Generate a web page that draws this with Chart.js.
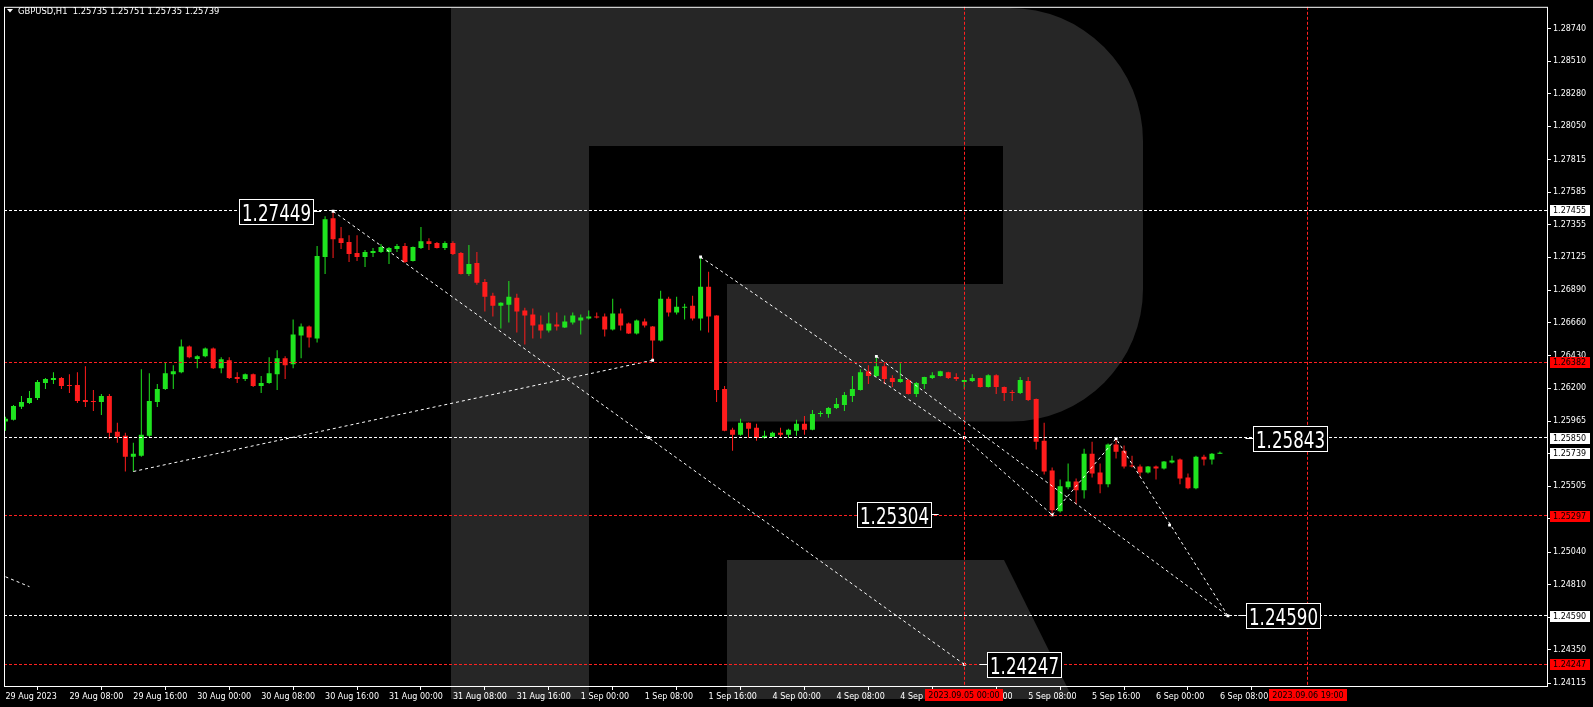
<!DOCTYPE html>
<html>
<head>
<meta charset="utf-8">
<title>GBPUSD,H1</title>
<script src="https://cdn.jsdelivr.net/npm/chart.js@4.4.1/dist/chart.umd.min.js"></script>
<style>
  html, body { margin: 0; padding: 0; background: #000; overflow: hidden; }
  #wrap { width: 1593px; height: 707px; }
</style>
</head>
<body>
<div id="wrap"><canvas id="fxChart" width="1593" height="707"></canvas></div>
<script>
const symbolTitle = "GBPUSD,H1  1.25735 1.25751 1.25735 1.25739";

// H1 bars, index 0 = 29 Aug 2023 00:00, weekend bars not present
const opens = [
  1.25963, 1.25975, 1.26068, 1.26094, 1.26129, 1.26235, 1.26256, 1.26270, 1.26221, 1.26221,
  1.26115, 1.26108, 1.26101, 1.26143, 1.25891, 1.25863, 1.25715, 1.25722, 1.25863, 1.26101,
  1.26193, 1.26298, 1.26312, 1.26494, 1.26405, 1.26424, 1.26480, 1.26340, 1.26396, 1.26277,
  1.26263, 1.26298, 1.26214, 1.26235, 1.26298, 1.26410, 1.26368, 1.26571, 1.26634, 1.26550,
  1.27126, 1.27400, 1.27259, 1.27231, 1.27154, 1.27126, 1.27154, 1.27161, 1.27161, 1.27182,
  1.27203, 1.27098, 1.27189, 1.27238, 1.27224, 1.27189, 1.27224, 1.27154, 1.27006, 1.27084,
  1.26950, 1.26852, 1.26782, 1.26789, 1.26838, 1.26747, 1.26719, 1.26649, 1.26607, 1.26649,
  1.26628, 1.26663, 1.26677, 1.26691, 1.26705, 1.26705, 1.26614, 1.26726, 1.26656, 1.26586,
  1.26670, 1.26635, 1.26536, 1.26831, 1.26733, 1.26768, 1.26782, 1.26691, 1.26915, 1.26712,
  1.26193, 1.25905, 1.25870, 1.25954, 1.25919, 1.25849, 1.25856, 1.25884, 1.25870, 1.25898,
  1.25947, 1.25905, 1.26017, 1.26017, 1.26059, 1.26080, 1.26143, 1.26186, 1.26319, 1.26284,
  1.26354, 1.26270, 1.26242, 1.26256, 1.26157, 1.26228, 1.26270, 1.26284, 1.26312, 1.26277,
  1.26242, 1.26249, 1.26270, 1.26207, 1.26291, 1.26207, 1.26171, 1.26164, 1.26249, 1.26122,
  1.25828, 1.25617, 1.25329, 1.25498, 1.25540, 1.25477, 1.25736, 1.25603, 1.25519, 1.25800,
  1.25757, 1.25652, 1.25645, 1.25603, 1.25645, 1.25631, 1.25673, 1.25694, 1.25568, 1.25491,
  1.25715, 1.25694, 1.25735
];
const highs = [
  1.25996, 1.26080, 1.26143, 1.26178, 1.26256, 1.26270, 1.26312, 1.26277, 1.26298, 1.26312,
  1.26354, 1.26186, 1.26157, 1.26157, 1.25954, 1.25884, 1.25814, 1.26333, 1.26305, 1.26228,
  1.26382, 1.26361, 1.26543, 1.26500, 1.26431, 1.26487, 1.26487, 1.26417, 1.26417, 1.26312,
  1.26302, 1.26302, 1.26284, 1.26417, 1.26466, 1.26424, 1.26684, 1.26656, 1.26641, 1.27203,
  1.27414, 1.27449, 1.27337, 1.27280, 1.27280, 1.27175, 1.27189, 1.27217, 1.27196, 1.27217,
  1.27224, 1.27200, 1.27337, 1.27259, 1.27231, 1.27238, 1.27238, 1.27161, 1.27210, 1.27161,
  1.26971, 1.26873, 1.26806, 1.26957, 1.26866, 1.26768, 1.26761, 1.26712, 1.26733, 1.26733,
  1.26712, 1.26733, 1.26719, 1.26747, 1.26733, 1.26726, 1.26831, 1.26761, 1.26663, 1.26684,
  1.26691, 1.26638, 1.26887, 1.26845, 1.26845, 1.26796, 1.26852, 1.27126, 1.27021, 1.26715,
  1.26214, 1.25919, 1.25982, 1.25957, 1.25947, 1.25898, 1.25891, 1.25919, 1.25912, 1.25975,
  1.26003, 1.26045, 1.26038, 1.26066, 1.26129, 1.26171, 1.26284, 1.26333, 1.26361, 1.26424,
  1.26375, 1.26291, 1.26375, 1.26263, 1.26242, 1.26280, 1.26312, 1.26322, 1.26315, 1.26305,
  1.26259, 1.26298, 1.26273, 1.26298, 1.26298, 1.26210, 1.26186, 1.26277, 1.26277, 1.26125,
  1.25954, 1.25638, 1.25554, 1.25666, 1.25561, 1.25771, 1.25821, 1.25666, 1.25807, 1.25843,
  1.25793, 1.25722, 1.25659, 1.25649, 1.25652, 1.25684, 1.25722, 1.25701, 1.25596, 1.25722,
  1.25729, 1.25740, 1.25751
];
const lows = [
  1.25898, 1.25970, 1.26052, 1.26087, 1.26115, 1.26193, 1.26228, 1.26193, 1.26164, 1.26094,
  1.26066, 1.26038, 1.26010, 1.25842, 1.25814, 1.25610, 1.25610, 1.25715, 1.25849, 1.26066,
  1.26186, 1.26193, 1.26305, 1.26410, 1.26340, 1.26417, 1.26335, 1.26305, 1.26263, 1.26235,
  1.26249, 1.26207, 1.26164, 1.26230, 1.26186, 1.26263, 1.26340, 1.26410, 1.26487, 1.26522,
  1.27006, 1.27119, 1.27182, 1.27091, 1.27098, 1.27056, 1.27126, 1.27154, 1.27077, 1.27161,
  1.27084, 1.27094, 1.27182, 1.27175, 1.27186, 1.27175, 1.27140, 1.27003, 1.26992, 1.26929,
  1.26740, 1.26705, 1.26621, 1.26663, 1.26593, 1.26508, 1.26550, 1.26550, 1.26593, 1.26607,
  1.26624, 1.26649, 1.26579, 1.26684, 1.26691, 1.26564, 1.26607, 1.26607, 1.26582, 1.26579,
  1.26628, 1.26396, 1.26529, 1.26705, 1.26719, 1.26684, 1.26677, 1.26607, 1.26593, 1.26101,
  1.25895, 1.25757, 1.25863, 1.25849, 1.25828, 1.25842, 1.25853, 1.25856, 1.25849, 1.25863,
  1.25870, 1.25901, 1.25996, 1.25989, 1.26052, 1.26038, 1.26101, 1.26182, 1.26228, 1.26277,
  1.26228, 1.26207, 1.26238, 1.26154, 1.26136, 1.26193, 1.26263, 1.26281, 1.26263, 1.26249,
  1.26193, 1.26242, 1.26203, 1.26203, 1.26157, 1.26108, 1.26108, 1.26157, 1.26108, 1.25765,
  1.25589, 1.25304, 1.25320, 1.25484, 1.25378, 1.25420, 1.25568, 1.25456, 1.25498, 1.25701,
  1.25631, 1.25638, 1.25575, 1.25596, 1.25554, 1.25624, 1.25666, 1.25519, 1.25484, 1.25484,
  1.25652, 1.25659, 1.25735
];
const closes = [
  1.25982, 1.26073, 1.26101, 1.26129, 1.26242, 1.26263, 1.26270, 1.26214, 1.26214, 1.26108,
  1.26101, 1.26101, 1.26143, 1.25884, 1.25856, 1.25715, 1.25736, 1.25870, 1.26108, 1.26193,
  1.26305, 1.26319, 1.26494, 1.26417, 1.26424, 1.26480, 1.26340, 1.26403, 1.26270, 1.26263,
  1.26298, 1.26214, 1.26235, 1.26305, 1.26410, 1.26361, 1.26578, 1.26634, 1.26557, 1.27133,
  1.27393, 1.27252, 1.27224, 1.27147, 1.27126, 1.27161, 1.27168, 1.27196, 1.27189, 1.27203,
  1.27091, 1.27196, 1.27238, 1.27217, 1.27189, 1.27224, 1.27147, 1.27006, 1.27077, 1.26943,
  1.26845, 1.26782, 1.26803, 1.26845, 1.26740, 1.26712, 1.26642, 1.26607, 1.26656, 1.26635,
  1.26670, 1.26712, 1.26698, 1.26705, 1.26698, 1.26614, 1.26726, 1.26642, 1.26586, 1.26677,
  1.26642, 1.26536, 1.26831, 1.26733, 1.26775, 1.26775, 1.26691, 1.26915, 1.26705, 1.26186,
  1.25898, 1.25870, 1.25954, 1.25912, 1.25849, 1.25863, 1.25884, 1.25870, 1.25905, 1.25947,
  1.25905, 1.26017, 1.26024, 1.26059, 1.26087, 1.26150, 1.26193, 1.26312, 1.26284, 1.26354,
  1.26263, 1.26242, 1.26263, 1.26157, 1.26235, 1.26277, 1.26291, 1.26319, 1.26270, 1.26263,
  1.26256, 1.26270, 1.26207, 1.26291, 1.26207, 1.26164, 1.26164, 1.26256, 1.26115, 1.25821,
  1.25610, 1.25336, 1.25505, 1.25540, 1.25477, 1.25736, 1.25596, 1.25519, 1.25800, 1.25750,
  1.25645, 1.25645, 1.25603, 1.25645, 1.25631, 1.25680, 1.25687, 1.25561, 1.25491, 1.25715,
  1.25694, 1.25736, 1.25739
];

// one time label every 8 bars
const timeLabels = [
  "29 Aug 2023", "29 Aug 08:00", "29 Aug 16:00", "30 Aug 00:00", "30 Aug 08:00",
  "30 Aug 16:00", "31 Aug 00:00", "31 Aug 08:00", "31 Aug 16:00", "1 Sep 00:00",
  "1 Sep 08:00", "1 Sep 16:00", "4 Sep 00:00", "4 Sep 08:00", "4 Sep 16:00",
  "5 Sep 00:00", "5 Sep 08:00", "5 Sep 16:00", "6 Sep 00:00", "6 Sep 08:00"
];
const priceTicks = [
  1.28740, 1.28510, 1.28280, 1.28050, 1.27815, 1.27585, 1.27355, 1.27125, 1.26890, 1.26660,
  1.26430, 1.26200, 1.25965, 1.25735, 1.25505, 1.25275, 1.25040, 1.24810, 1.24580, 1.24350,
  1.24115
];

const whiteLevels = [1.27455, 1.25850, 1.24590];
const redLevels = [1.26382, 1.25297, 1.24247];
const bidPrice = 1.25739;
const redTimeBars = [120, 163];
const redTimeLabels = ["2023.09.05 00:00", "2023.09.06 19:00"];

const trendLines = [
  [[0, 1.24866], [3, 1.24796]],
  [[16, 1.25610], [81, 1.26396]],
  [[41, 1.27449], [120, 1.24247]],
  [[87, 1.27126], [120, 1.25850], [131, 1.25304]],
  [[109, 1.26424], [153, 1.24590]],
  [[131, 1.25304], [139, 1.25843], [153, 1.24590]]
];
const markerPoints = [
  [41, 1.27449], [87, 1.27126], [109, 1.26424], [120, 1.25850], [131, 1.25304],
  [139, 1.25843], [145.7, 1.25231], [153, 1.24590], [120, 1.24247], [80.5, 1.25849],
  [81, 1.26396]
];
const priceLabels = [1.27449, 1.25304, 1.24247, 1.25843, 1.24590];
const priceLabelBars = [39.5, 116.8, 121.9, 155.2, 154.3];
const priceLabelSide = ["left", "left", "right", "right", "right"];

const bullColor = "#1fe41f";
const bearColor = "#ff1c1c";
const candleColors = closes.map((c, i) => (c >= opens[i] ? bullColor : bearColor));

function hline(ctx, x1, x2, y) {
  ctx.beginPath();
  ctx.moveTo(x1, y);
  ctx.lineTo(x2, y);
  ctx.stroke();
}

function drawLogo(ctx) {
  // faint "R" watermark behind the chart
  ctx.fillStyle = "#262626";
  ctx.beginPath();
  ctx.moveTo(451, 8);
  ctx.lineTo(1010, 8);
  ctx.arcTo(1143, 8, 1143, 141, 133);
  ctx.lineTo(1143, 289);
  ctx.arcTo(1143, 421.5, 1010, 421.5, 132.5);
  ctx.lineTo(727, 421.5);
  ctx.lineTo(727, 284);
  ctx.lineTo(1003, 284);
  ctx.lineTo(1003, 146);
  ctx.lineTo(589, 146);
  ctx.lineTo(589, 699);
  ctx.lineTo(451, 699);
  ctx.closePath();
  ctx.fill();
  ctx.beginPath();
  ctx.moveTo(727, 560);
  ctx.lineTo(1004, 560);
  ctx.lineTo(1073, 699);
  ctx.lineTo(727, 699);
  ctx.closePath();
  ctx.fill();
}

const terminalLook = {
  id: "terminalLook",
  beforeDraw(chart) {
    const ctx = chart.ctx;
    ctx.save();
    ctx.fillStyle = "#000";
    ctx.fillRect(0, 0, chart.width, chart.height);
    drawLogo(ctx);
    ctx.restore();
  },
  afterDatasetsDraw(chart) {
    const ctx = chart.ctx;
    const xS = chart.scales.x;
    const yS = chart.scales.y;
    const area = chart.chartArea;
    ctx.save();
    ctx.lineWidth = 1;
    ctx.setLineDash([3, 2]);
    ctx.strokeStyle = "#ffffff";
    whiteLevels.forEach(v => hline(ctx, area.left, area.right, Math.floor(yS.getPixelForValue(v)) + 0.5));
    ctx.strokeStyle = "#ff2020";
    redLevels.forEach(v => hline(ctx, area.left, area.right, Math.floor(yS.getPixelForValue(v)) + 0.5));
    redTimeBars.forEach(b => {
      const x = Math.floor(xS.getPixelForValue(b)) + 0.5;
      ctx.beginPath();
      ctx.moveTo(x, area.top);
      ctx.lineTo(x, area.bottom);
      ctx.stroke();
    });
    ctx.setLineDash([]);

    // boxed price labels
    priceLabels.forEach((v, k) => {
      const ax = xS.getPixelForValue(priceLabelBars[k]);
      const ay = Math.floor(yS.getPixelForValue(v)) + 0.5;
      const w = 74, h = 25, gap = 8;
      const bx = Math.round(priceLabelSide[k] === "left" ? ax - gap - w : ax + gap) + 0.5;
      const by = Math.round(ay - h / 2) + 0.5;
      ctx.strokeStyle = "#fff";
      if (priceLabelSide[k] === "left") hline(ctx, bx + w, ax, ay);
      else hline(ctx, ax, bx, ay);
      ctx.fillStyle = "#000";
      ctx.fillRect(bx, by, w, h);
      ctx.strokeRect(bx, by, w, h);
      ctx.fillStyle = "#fff";
      ctx.font = '23px "DejaVu Sans"';
      ctx.textBaseline = "alphabetic";
      ctx.textAlign = "left";
      ctx.fillText(v.toFixed(5), bx + 2.5, by + h / 2 + 8.5, w - 5);
    });
    ctx.restore();
  },
  afterDraw(chart) {
    const ctx = chart.ctx;
    const xS = chart.scales.x;
    const yS = chart.scales.y;
    const area = chart.chartArea;
    ctx.save();
    ctx.font = '8px "DejaVu Sans"';
    ctx.textBaseline = "middle";
    ctx.textAlign = "left";

    // price tags on the right scale
    const tag = (v, fill) => {
      const y = Math.round(yS.getPixelForValue(v));
      ctx.fillStyle = fill;
      ctx.fillRect(area.right + 2, y - 5, 40, 11);
      ctx.fillStyle = "#000";
      ctx.fillText(v.toFixed(5), area.right + 5, y + 0.5);
    };
    whiteLevels.forEach(v => tag(v, "#fff"));
    tag(bidPrice, "#fff");
    redLevels.forEach(v => tag(v, "#ff0000"));

    // time tags on the bottom scale
    ctx.textAlign = "center";
    redTimeBars.forEach((b, k) => {
      const x = Math.round(xS.getPixelForValue(b));
      ctx.fillStyle = "#ff0000";
      ctx.fillRect(x - 39, area.bottom + 2, 78, 12);
      ctx.fillStyle = "#000";
      ctx.fillText(redTimeLabels[k], x, area.bottom + 8.5);
    });

    // frame
    ctx.strokeStyle = "#fff";
    ctx.lineWidth = 1;
    ctx.strokeRect(area.left + 0.5, area.top + 0.5, area.right - area.left - 1, area.bottom - area.top - 1);

    // header
    ctx.fillStyle = "#fff";
    ctx.beginPath();
    ctx.moveTo(7, 9);
    ctx.lineTo(13, 9);
    ctx.lineTo(10, 12.5);
    ctx.closePath();
    ctx.fill();
    ctx.font = '8.4px "DejaVu Sans"';
    ctx.textAlign = "left";
    ctx.textBaseline = "alphabetic";
    ctx.fillText(symbolTitle, 18, 14);
    ctx.restore();
  }
};

window.onload = function() {
  const wickData = lows.map((l, i) => ({ x: i, y: [l, highs[i]] }));
  const bodyData = opens.map((o, i) => ({ x: i, y: [o, closes[i]] }));

  const lineSets = trendLines.map(pts => ({
    type: "line",
    data: pts.map(p => ({ x: p[0], y: p[1] })),
    borderColor: "#ffffff",
    borderWidth: 1,
    borderDash: [3, 3],
    pointRadius: 0,
    fill: false,
    tension: 0,
    order: 1
  }));

  const ctx = document.getElementById("fxChart").getContext("2d");
  new Chart(ctx, {
    type: "bar",
    data: {
      datasets: [
        {
          data: wickData,
          backgroundColor: candleColors,
          barThickness: 1,
          grouped: false,
          inflateAmount: 0,
          borderWidth: 0,
          order: 3
        },
        {
          data: bodyData,
          backgroundColor: candleColors,
          barThickness: 5,
          minBarLength: 1,
          grouped: false,
          inflateAmount: 0,
          borderWidth: 0,
          order: 2
        },
        ...lineSets,
        {
          type: "scatter",
          data: markerPoints.map(p => ({ x: p[0], y: p[1] })),
          pointStyle: "rect",
          pointRadius: 2,
          backgroundColor: "#ffffff",
          borderColor: "#ffffff",
          borderWidth: 0,
          order: 0
        }
      ]
    },
    options: {
      responsive: false,
      devicePixelRatio: 1,
      animation: false,
      events: [],
      layout: { padding: { left: 2, top: 2, right: 0, bottom: 0 } },
      plugins: { legend: { display: false }, tooltip: { enabled: false } },
      scales: {
        x: {
          type: "linear",
          offset: false,
          min: -0.1875,
          max: 193.0625,
          afterFit: s => { s.height = 20; },
          afterBuildTicks: s => { s.ticks = timeLabels.map((_, k) => ({ value: k * 8 })); },
          grid: { display: true, drawOnChartArea: false, drawTicks: true, tickLength: 3, color: "#ffffff" },
          border: { display: false },
          ticks: {
            autoSkip: false,
            maxRotation: 0,
            minRotation: 0,
            align: "start",
            padding: 2,
            color: "#ffffff",
            font: { family: "DejaVu Sans", size: 8 },
            callback: v => timeLabels[Math.round(v / 8)]
          }
        },
        y: {
          position: "right",
          min: 1.24087,
          max: 1.28894,
          afterFit: s => { s.width = 45; },
          afterBuildTicks: s => { s.ticks = priceTicks.map(v => ({ value: v })); },
          grid: { display: true, drawOnChartArea: false, drawTicks: true, tickLength: 3, color: "#ffffff" },
          border: { display: false },
          ticks: {
            autoSkip: false,
            padding: 2,
            color: "#ffffff",
            font: { family: "DejaVu Sans", size: 8 },
            callback: v => v.toFixed(5)
          }
        }
      }
    },
    plugins: [terminalLook]
  });
};
</script>
</body>
</html>
